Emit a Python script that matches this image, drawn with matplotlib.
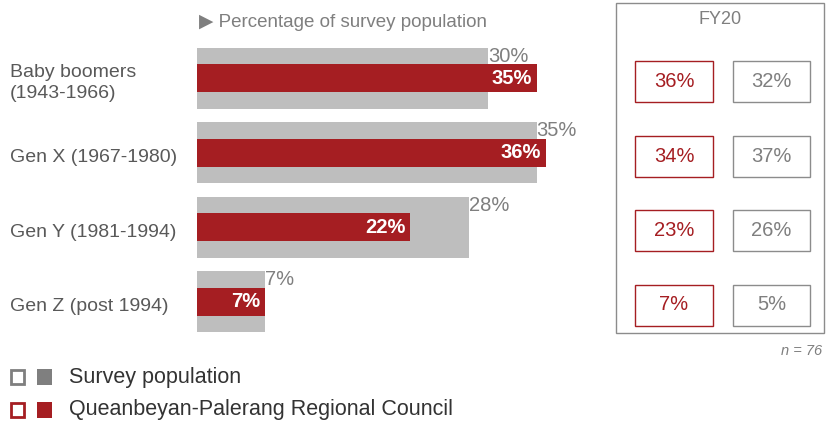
import numpy as np
import matplotlib.pyplot as plt
from matplotlib.patches import Rectangle

plt.rcParams['font.family'] = ['Liberation Sans', 'DejaVu Sans']

# Generations and their shares (%)
generations = ["Baby boomers\n(1943-1966)", "Gen X (1967-1980)",
               "Gen Y (1981-1994)", "Gen Z (post 1994)"]
survey_pct = [30, 35, 28, 7]
council_pct = [35, 36, 22, 7]

# previous year comparison panel
fy_label = "FY20"
fy20_council = [36, 34, 23, 7]
fy20_survey = [32, 37, 26, 5]
sample_size = 76

RED = "#A51E22"
GREY_BAR = "#BEBEBE"
GREY_TXT = "#7F7F7F"
LABEL_TXT = "#595959"

W, H = 827, 425
fig = plt.figure(figsize=(W / 100, H / 100), dpi=100)

# main bar axes, placed in pixel terms
left, right, top, bottom = 197, 585, 41, 339
ax = fig.add_axes([left / W, (H - bottom) / H, (right - left) / W, (bottom - top) / H])
ax.set_xlim(0, 40)
ax.set_ylim(len(generations) - 0.5, -0.5)
ax.axis('off')

y = np.arange(len(generations))
ax.barh(y, survey_pct, height=0.82, color=GREY_BAR)
ax.barh(y, council_pct, height=0.375, color=RED)

for i in y:
    ax.annotate(f"{survey_pct[i]}%", (survey_pct[i], i - 0.41), xytext=(0, -6),
                textcoords='offset points', ha='left', va='center',
                fontsize=14.5, color=GREY_TXT)
    ax.annotate(f"{council_pct[i]}%", (council_pct[i], i), xytext=(-3.5, 0),
                textcoords='offset points', ha='right', va='center',
                fontsize=14.5, fontweight='bold', color='white')
    ax.annotate(generations[i], (0, i), xytext=(10 - left, -5),
                textcoords='offset pixels', ha='left', va='center',
                fontsize=14, color=LABEL_TXT, linespacing=1.3,
                annotation_clip=False)

# overlay in pixel coordinates for header, panel and legend
ov = fig.add_axes([0, 0, 1, 1])
ov.set_xlim(0, W)
ov.set_ylim(H, 0)
ov.axis('off')
ov.patch.set_alpha(0)

ov.text(199, 22, "\u25B6 Percentage of survey population", fontsize=13.5,
        color=GREY_TXT, va='center', ha='left')

# FY20 panel
ov.add_patch(Rectangle((616, 3), 208, 330, fill=False, ec="#8C8C8C", lw=1))
ov.text(720, 19, fy_label, fontsize=13, color=GREY_TXT, ha='center', va='center')
for i in range(len(fy20_council)):
    y0 = 61 + i * 74.5
    ov.add_patch(Rectangle((635, y0), 78, 41, fill=False, ec=RED, lw=1))
    ov.add_patch(Rectangle((733, y0), 77, 41, fill=False, ec="#8C8C8C", lw=1))
    ov.text(674, y0 + 20.5, f"{fy20_council[i]}%", fontsize=14.5, color=RED,
            ha='center', va='center')
    ov.text(771.5, y0 + 20.5, f"{fy20_survey[i]}%", fontsize=14.5, color=GREY_TXT,
            ha='center', va='center')
ov.text(822, 351, f"n = {sample_size}", fontsize=10.5, style='italic',
        color=GREY_TXT, ha='right', va='center')

# legend
legend_rows = [("Survey population", "#7F7F7F", 369),
               ("Queanbeyan-Palerang Regional Council", RED, 402)]
for name, col, ly in legend_rows:
    ov.add_patch(Rectangle((11, ly + 1), 13, 14, fill=False, ec=col, lw=2))
    ov.add_patch(Rectangle((37, ly), 15, 16, color=col, lw=0))
    ov.text(69, ly + 8, name, fontsize=15.5, color="#333333", ha='left', va='center')

fig.savefig("out.png", dpi=100)
